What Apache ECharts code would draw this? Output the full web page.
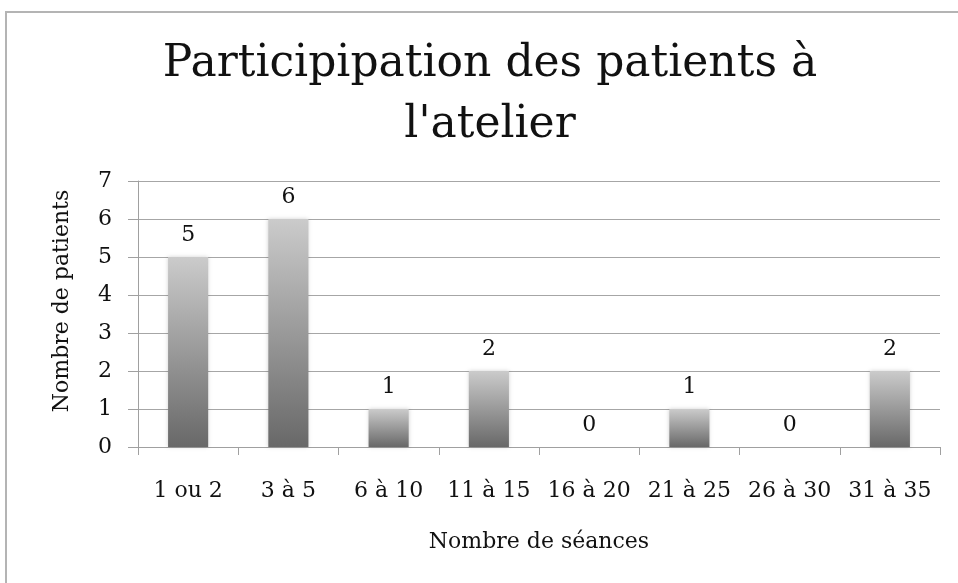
<!DOCTYPE html>
<html>
<head>
<meta charset="utf-8">
<script src="https://cdn.jsdelivr.net/npm/echarts@6/dist/echarts.min.js"></script>
<style>html,body{margin:0;padding:0;background:#fff}#c{width:958px;height:583px}</style>
</head>
<body>
<div id="c"></div>
<script>
const titleText = "Participipation des patients à\nl'atelier";
const categories = ["1 ou 2", "3 à 5", "6 à 10", "11 à 15", "16 à 20", "21 à 25", "26 à 30", "31 à 35"];
const patients = [5, 6, 1, 2, 0, 1, 0, 2];
const yTicks = [0, 1, 2, 3, 4, 5, 6, 7];
const xTitle = "Nombre de séances";
const yTitle = "Nombre de patients";

const FONT = "DejaVu Serif";
const chart = echarts.init(document.getElementById('c'), null, {renderer: 'canvas'});
chart.setOption({
  backgroundColor: '#fff',
  animation: false,
  graphic: [{
    type: 'rect', silent: true,
    shape: {x: 6, y: 12, width: 1000, height: 1000},
    style: {fill: 'none', stroke: '#b4b4b4', lineWidth: 2}
  }],
  title: {
    text: titleText,
    left: 490, top: 34,
    padding: 0,
    textAlign: 'center',
    textStyle: {fontFamily: FONT, fontSize: 44, fontWeight: 'normal', color: '#111', lineHeight: 61}
  },
  grid: {left: 138, right: 18, top: 181, bottom: 136, containLabel: false},
  xAxis: {
    type: 'category',
    data: categories,
    name: xTitle,
    nameLocation: 'middle',
    nameGap: 84,
    nameTextStyle: {fontFamily: FONT, fontSize: 22, color: '#111'},
    axisLine: {lineStyle: {color: '#a0a0a0', width: 1}},
    axisTick: {show: true, length: 8, lineStyle: {color: '#a0a0a0'}},
    axisLabel: {fontFamily: FONT, fontSize: 22, color: '#111', margin: 33, interval: 0}
  },
  yAxis: {
    type: 'value',
    min: yTicks[0], max: yTicks[yTicks.length - 1], interval: 1,
    name: yTitle,
    nameLocation: 'middle',
    nameGap: 65,
    nameTextStyle: {fontFamily: FONT, fontSize: 22, color: '#111', padding: [0, 0, 0, 26]},
    axisLine: {show: true, lineStyle: {color: '#a0a0a0', width: 1}},
    axisTick: {show: true, length: 10, lineStyle: {color: '#a0a0a0'}},
    axisLabel: {fontFamily: FONT, fontSize: 22, color: '#111', margin: 26},
    splitLine: {show: true, lineStyle: {color: '#a6a6a6', width: 1}}
  },
  series: [{
    type: 'bar',
    data: patients,
    barWidth: '40%',
    itemStyle: {
      color: new echarts.graphic.LinearGradient(0, 0, 0, 1, [
        {offset: 0, color: '#cbcbcb'},
        {offset: 1, color: '#686868'}
      ]),
      shadowBlur: 4,
      shadowColor: 'rgba(0,0,0,0.18)'
    },
    label: {
      show: true, position: 'top', distance: 11,
      fontFamily: FONT, fontSize: 22, color: '#111'
    }
  }]
});
</script>
</body>
</html>
